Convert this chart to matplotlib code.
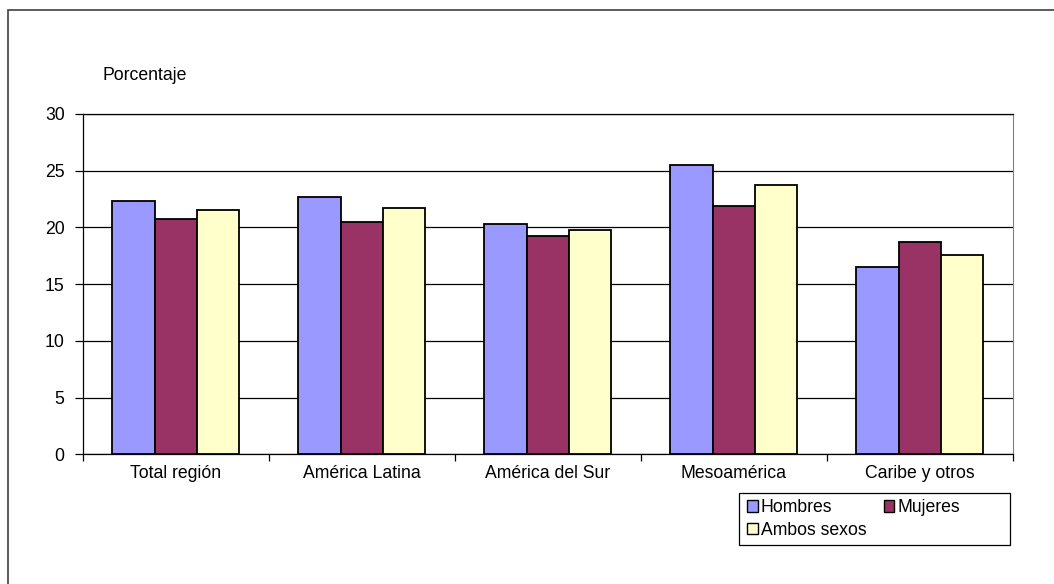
import numpy as np
import matplotlib
matplotlib.use('Agg')
import matplotlib.pyplot as plt
from matplotlib.patches import Rectangle

plt.rcParams['font.family'] = ['Liberation Sans', 'DejaVu Sans']

categories = ['Total región', 'América Latina', 'América del Sur', 'Mesoamérica', 'Caribe y otros']
hombres = [22.3, 22.7, 20.3, 25.5, 16.5]
mujeres = [20.7, 20.5, 19.25, 21.9, 18.7]
ambos = [21.5, 21.7, 19.75, 23.7, 17.6]
series_names = ['Hombres', 'Mujeres', 'Ambos sexos']
colors = ['#9999ff', '#993366', '#ffffcc']

W, H = 1054, 584
fs = 12.7
fig = plt.figure(figsize=(W / 100, H / 100), dpi=100)
# outer frame, only left and top edges fall inside the picture
fig.patches.append(Rectangle((8 / W, -10 / H), 1100 / W, (H - 10 + 10) / H, transform=fig.transFigure,
                             fill=False, edgecolor='#404040', linewidth=1.2, clip_on=False, zorder=-2))

ax = fig.add_axes([82.7 / W, 1 - 454.3 / H, 930 / W, 340.3 / H])
x = np.arange(len(categories))
bw = 0.2275
bars = []
for i, (vals, c, n) in enumerate(zip([hombres, mujeres, ambos], colors, series_names)):
    b = ax.bar(x + (i - 1) * bw, vals, width=bw, color=c, edgecolor='black', linewidth=1.3,
               label=n, zorder=3)
    bars.append(b)

ax.set_xlim(-0.5, len(categories) - 0.5)
ax.set_ylim(0, 30)
ax.set_yticks(range(0, 31, 5))
ax.yaxis.grid(True, color='black', linewidth=0.9, zorder=0)
ax.set_xticks(x)
ax.set_xticklabels(categories, fontsize=fs)
ax.tick_params(axis='x', length=0, pad=8)
ax.set_xticks(np.arange(-0.5, len(categories), 1), minor=True)
ax.tick_params(axis='x', which='minor', length=5, width=0.9)
ax.tick_params(axis='y', length=6, width=0.9, labelsize=fs, pad=7)
for s in ['left', 'bottom', 'top']:
    ax.spines[s].set_linewidth(0.9)
ax.spines['right'].set_color('#808080')

fig.text(103 / W, 1 - 76 / H, 'Porcentaje', fontsize=fs, va='center', ha='left')

# legend box is wider than its entries, so draw the frame separately (behind the axes)
fig.patches.append(Rectangle((739 / W, 1 - 545 / H), 271 / W, 51.7 / H, transform=fig.transFigure,
                             facecolor='white', edgecolor='black', linewidth=0.9, zorder=-1))

# row-major order: Hombres, Mujeres / Ambos sexos
handles = [bars[0], bars[2], bars[1]]
labels = [series_names[0], series_names[2], series_names[1]]
leg = ax.legend(handles, labels, loc='upper left', bbox_to_anchor=(742 / W, 1 - 494 / H),
                bbox_transform=fig.transFigure,
                ncol=2, fontsize=fs, frameon=False,
                handlelength=0.6, handleheight=0.6, handletextpad=0.15, columnspacing=1.0,
                borderpad=0.3, labelspacing=0.3, borderaxespad=0)
for h in leg.legend_handles:
    h.set_linewidth(1.0)

fig.savefig('out.png', dpi=100)
